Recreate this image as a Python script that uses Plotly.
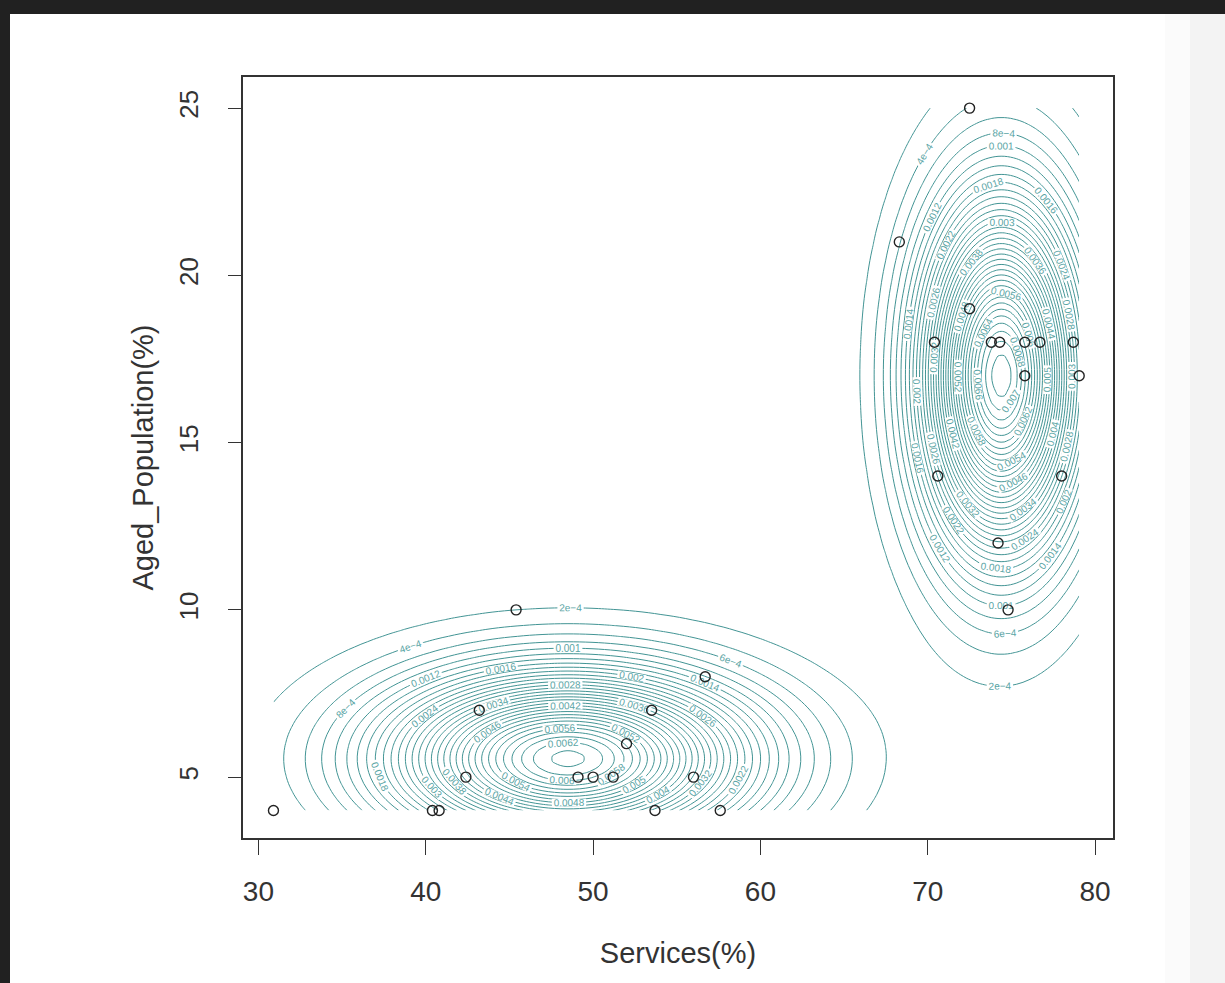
import numpy as np
import plotly.graph_objects as go

# ---- observed points ----
services = [30.9, 45.4, 43.2, 42.4, 40.4, 40.8, 49.1, 50.0, 51.2, 52.0, 53.5, 53.7, 56.7, 56.0, 57.6,
            72.5, 68.3, 72.5, 70.4, 73.8, 74.3, 75.8, 76.7, 78.7, 75.8, 79.05, 70.6, 78.0, 74.2, 74.8]
aged_pop = [4, 10, 7, 5, 4, 4, 5, 5, 5, 6, 7, 4, 8, 5, 4,
            25, 21, 19, 18, 18, 18, 18, 18, 18, 17, 17, 14, 14, 12, 10]

# ---- fitted two-component normal mixture ----
comp_weight = [0.5, 0.5]
comp_mean_x = [48.5, 74.4]
comp_mean_y = [5.55, 17.0]
comp_sd_x = [7.2, 3.15]
comp_sd_y = [1.71, 3.45]

x_ticks = [30, 40, 50, 60, 70, 80]
y_ticks = [5, 10, 15, 20, 25]

# density grid over the data range
gx = np.linspace(min(services), max(services), 130)
gy = np.linspace(min(aged_pop), max(aged_pop), 130)
GX, GY = np.meshgrid(gx, gy)
Z = np.zeros_like(GX)
for w, mx, my, sx, sy in zip(comp_weight, comp_mean_x, comp_mean_y, comp_sd_x, comp_sd_y):
    Z += w / (2 * np.pi * sx * sy) * np.exp(-0.5 * (((GX - mx) / sx) ** 2 + ((GY - my) / sy) ** 2))

teal = "#429494"
fig = go.Figure()
for start, end, fmt in [(0.0002, 0.0008, "~e"), (0.0010, 0.0076, "~g")]:
    fig.add_trace(go.Contour(
        x=gx, y=gy, z=Z,
        contours=dict(start=start, end=end, size=0.0002, coloring="lines",
                      showlabels=True, labelformat=fmt,
                      labelfont=dict(size=10, color="#5aa5a5", family="Liberation Sans")),
        colorscale=[[0, teal], [1, teal]], showscale=False,
        line=dict(width=1), hoverinfo="skip",
    ))

fig.add_trace(go.Scatter(
    x=services, y=aged_pop, mode="markers",
    marker=dict(symbol="circle-open", size=10, color="#222222", line=dict(width=1.4)),
    showlegend=False,
))

L, R, T, B = 243, 1113, 77, 838
W, H = 1225, 983
def px(x):
    return (x - L) / (R - L)
def py(y):
    return (B - y) / (B - T)

shapes = [
    dict(type="rect", xref="paper", yref="paper", x0=px(0), x1=px(W), y0=py(14), y1=py(0),
         fillcolor="#212121", line=dict(width=0), layer="below"),
    dict(type="rect", xref="paper", yref="paper", x0=px(0), x1=px(10), y0=py(H), y1=py(0),
         fillcolor="#212121", line=dict(width=0), layer="below"),
    dict(type="rect", xref="paper", yref="paper", x0=px(1165), x1=px(1190), y0=py(H), y1=py(14),
         fillcolor="#fbfbfb", line=dict(width=0), layer="below"),
    dict(type="rect", xref="paper", yref="paper", x0=px(1190), x1=px(W), y0=py(H), y1=py(14),
         fillcolor="#f3f3f3", line=dict(width=0), layer="below"),
]

font = "Liberation Sans, Arial, sans-serif"
fig.update_layout(
    width=W, height=H,
    margin=dict(l=L, r=W - R, t=T, b=H - B),
    paper_bgcolor="white", plot_bgcolor="white",
    showlegend=False,
    shapes=shapes,
    font=dict(family=font, color="#333333"),
    xaxis=dict(range=[29.08, 81.07], tickvals=x_ticks, ticks="outside", ticklen=15, tickwidth=1.2,
               tickcolor="#333333", showline=True, mirror=True, linecolor="#333333", linewidth=1.5,
               showgrid=False, zeroline=False, tickfont=dict(size=28, color="#333333"),
               ticklabelstandoff=13,
               title=dict(text="Services(%)", font=dict(size=29, color="#333333"), standoff=36)),
    yaxis=dict(range=[3.18, 25.93], tickvals=y_ticks, ticks="outside", ticklen=13, tickwidth=1.2,
               tickcolor="#333333", showline=True, mirror=True, linecolor="#333333", linewidth=1.5,
               showgrid=False, zeroline=False, tickangle=-90, tickfont=dict(size=26, color="#333333"),
               ticklabelstandoff=20,
               title=dict(text="Aged_Population(%)", font=dict(size=29, color="#333333"), standoff=12)),
)

fig.write_html("out.html")
